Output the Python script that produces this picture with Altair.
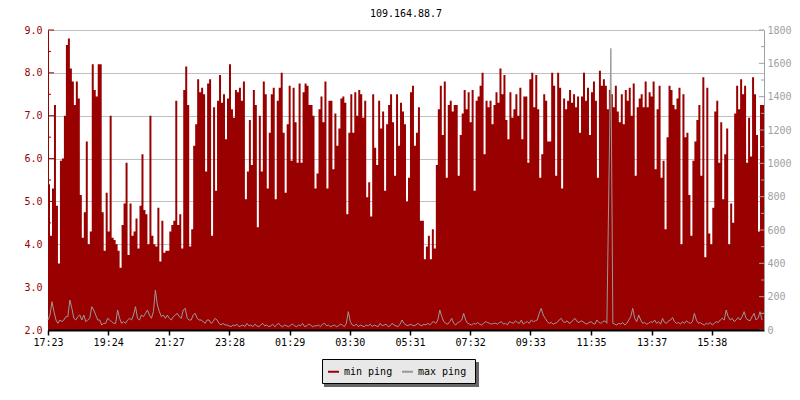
import json
import altair as alt
import pandas as pd

chart_title = "109.164.88.7"
series_names = ["min ping", "max ping"]
series_colors = ["#990000", "#999999"]
sample_minutes = 4
span_minutes = 1440

# min ping (left axis), one value every 4 minutes starting 17:23
min_ping = [
    5.4, 4.2, 5.3, 7.25, 4.9, 3.55, 5.95, 6.0, 7.0, 8.65, 8.8, 8.1, 7.8, 7.25, 7.8,
    7.4, 5.15, 4.15, 4.75, 6.4, 4.0, 4.3, 8.2, 7.6, 7.45, 8.2, 8.2, 4.75, 3.85, 5.2,
    4.3, 7.0, 4.15, 4.1, 4.0, 3.85, 3.45, 4.45, 4.95, 5.9, 3.75, 4.95, 4.2, 4.3, 4.6,
    3.9, 4.9, 6.1, 4.8, 4.7, 4.0, 7.0, 4.2, 4.0, 3.95, 4.85, 3.6, 4.55, 3.8, 3.85,
    3.85, 4.3, 4.45, 4.55, 7.35, 4.45, 4.7, 3.9, 7.6, 8.15, 7.25, 3.95, 4.35, 6.3, 6.8,
    7.85, 7.55, 7.65, 7.5, 5.7, 7.75, 7.85, 4.2, 7.2, 5.25, 7.35, 7.95, 7.3, 7.5, 6.45,
    7.4, 8.2, 7.15, 6.95, 7.6, 7.55, 7.65, 7.35, 7.8, 5.05, 5.7, 6.9, 5.85, 7.6, 7.25,
    4.4, 7.0, 5.7, 7.8, 7.5, 5.3, 6.6, 7.5, 7.65, 5.05, 7.35, 7.65, 8.0, 6.6, 5.2,
    6.8, 7.7, 5.95, 7.65, 6.85, 5.9, 7.75, 5.9, 7.55, 7.75, 7.7, 7.25, 7.25, 7.0, 5.3,
    5.65, 7.15, 7.45, 6.85, 7.8, 5.3, 7.35, 7.35, 5.75, 7.05, 6.3, 6.7, 7.4, 7.45, 7.3,
    4.7, 6.6, 7.5, 6.6, 7.55, 7.0, 7.6, 7.5, 6.95, 7.35, 5.1, 5.45, 4.65, 7.5, 6.25,
    5.85, 7.35, 6.7, 7.1, 5.25, 6.8, 7.25, 7.5, 6.85, 5.6, 7.5, 6.3, 7.3, 7.1, 6.8,
    5.0, 5.55, 7.55, 7.7, 6.3, 6.6, 7.2, 4.55, 4.55, 3.65, 3.95, 4.2, 3.65, 4.35, 3.9,
    5.85, 7.15, 7.7, 6.55, 7.8, 5.55, 7.25, 7.35, 7.1, 7.25, 7.25, 5.6, 6.55, 7.05, 7.6,
    7.15, 7.55, 6.85, 7.6, 5.25, 7.35, 7.45, 7.7, 8.0, 6.1, 7.35, 7.2, 7.35, 6.8, 7.25,
    7.55, 7.3, 8.1, 7.5, 7.95, 6.9, 6.45, 7.55, 6.95, 7.15, 7.5, 7.0, 7.65, 6.45, 7.45,
    7.45, 5.9, 7.85, 8.0, 7.2, 7.95, 7.15, 5.55, 6.1, 7.5, 7.35, 6.4, 6.4, 8.0, 7.7,
    5.6, 8.0, 7.65, 5.3, 7.4, 7.15, 7.35, 7.6, 7.3, 7.5, 7.2, 7.45, 6.6, 7.45, 8.0,
    7.35, 7.65, 6.55, 7.55, 7.8, 7.35, 5.55, 8.05, 7.7, 7.85, 7.7, 7.15, 7.6, 7.5, 7.2,
    7.7, 7.1, 6.85, 7.5, 6.8, 7.6, 7.35, 7.65, 7.0, 7.75, 5.6, 7.2, 7.4, 7.5, 7.2,
    7.8, 7.2, 7.55, 7.45, 7.8, 5.75, 7.15, 7.7, 5.55, 5.95, 4.35, 6.5, 7.7, 7.6, 7.25,
    7.15, 7.4, 7.65, 4.0, 7.5, 6.5, 6.6, 5.15, 4.2, 5.95, 6.4, 6.9, 7.25, 5.6, 7.9,
    3.7, 7.65, 4.25, 4.0, 4.85, 7.1, 7.35, 5.9, 6.85, 5.05, 6.1, 6.7, 4.0, 4.95, 4.5,
    7.05, 7.7, 7.15, 7.85, 7.5, 7.7, 5.9, 6.95, 6.05, 7.9, 7.5, 6.55, 4.3, 7.25, 7.25,
]

# max ping (right axis), same sampling
max_ping = [
    60, 90, 170, 110, 60, 40, 60, 50, 60, 80, 80, 180, 130, 70, 60,
    80, 90, 60, 90, 50, 60, 70, 140, 120, 90, 60, 60, 30, 40, 40,
    70, 60, 50, 40, 40, 120, 70, 40, 50, 40, 60, 70, 60, 90, 140,
    70, 60, 90, 80, 100, 120, 90, 70, 110, 240, 150, 110, 80, 90, 70,
    90, 70, 60, 80, 90, 100, 80, 70, 120, 130, 70, 60, 60, 90, 100,
    70, 60, 60, 50, 40, 60, 60, 40, 50, 70, 60, 40, 30, 40, 30,
    30, 25, 20, 30, 25, 35, 20, 25, 30, 20, 40, 25, 30, 20, 35,
    25, 20, 30, 40, 25, 30, 20, 25, 35, 20, 30, 40, 25, 20, 30,
    25, 20, 30, 35, 25, 20, 30, 25, 40, 20, 25, 35, 30, 20, 25,
    25, 30, 20, 35, 40, 25, 30, 20, 25, 30, 20, 25, 35, 30, 20,
    40, 110, 50, 30, 25, 35, 20, 30, 25, 20, 30, 25, 35, 20, 30,
    25, 20, 40, 25, 30, 35, 20, 25, 40, 30, 25, 20, 35, 60, 40,
    30, 25, 35, 30, 25, 30, 40, 30, 25, 35, 30, 40, 30, 45, 50,
    40, 60, 120, 80, 50, 40, 35, 50, 70, 40, 30, 45, 50, 60, 100,
    60, 40, 35, 30, 40, 35, 45, 35, 30, 40, 50, 45, 40, 35, 40,
    40, 35, 45, 50, 35, 40, 30, 50, 45, 40, 55, 45, 40, 60, 35,
    45, 50, 40, 60, 50, 55, 60, 100, 130, 90, 70, 50, 40, 45, 35,
    40, 45, 60, 70, 50, 45, 55, 40, 45, 60, 70, 50, 45, 55, 50,
    40, 35, 45, 50, 40, 35, 60, 45, 40, 50, 55, 40, 864, 1690, 40,
    35, 30, 40, 35, 45, 30, 40, 60, 80, 130, 70, 50, 90, 60, 40,
    45, 35, 40, 50, 45, 60, 40, 50, 35, 70, 45, 40, 55, 60, 75,
    50, 40, 45, 35, 50, 40, 55, 45, 40, 50, 100, 60, 40, 45, 35,
    30, 40, 35, 45, 30, 40, 50, 45, 60, 70, 60, 120, 80, 60, 70,
    50, 60, 75, 60, 80, 110, 70, 60, 55, 80, 100, 60, 70, 110, 60,
]

tick_minutes = [0, 121, 244, 365, 486, 607, 728, 849, 970, 1092, 1214, 1335]
tick_labels = ["17:23", "19:24", "21:27", "23:28", "01:29", "03:30",
               "05:31", "07:32", "09:33", "11:35", "13:37", "15:38"]
left_major = [2.0, 3.0, 4.0, 5.0, 6.0, 7.0, 8.0, 9.0]
left_minor = [2.5, 3.5, 4.5, 5.5, 6.5, 7.5, 8.5]
right_major = [0, 200, 400, 600, 800, 1000, 1200, 1400, 1600, 1800]
right_minor = [100, 300, 500, 700, 900, 1100, 1300, 1500, 1700]

FONT = "DejaVu Sans Mono"
W, H = 716, 300

times = [i * sample_minutes for i in range(len(min_ping))]
red_df = pd.DataFrame({"t": times + [span_minutes], "v": min_ping + [min_ping[-1]]})
grey_df = pd.DataFrame({"t": times, "v": max_ping, "series": series_names[1]})

label_expr = f"{json.dumps(tick_labels)}[indexof({json.dumps(tick_minutes)}, datum.value)]"

x_enc = alt.X(
    "t:Q",
    scale=alt.Scale(domain=[0, span_minutes], nice=False, zero=False),
    axis=alt.Axis(values=tick_minutes, labelExpr=label_expr, title=None, grid=False,
                  labelFlush=False, labelOverlap=False, labelFont=FONT, labelFontSize=10,
                  labelColor="black", domainColor="black", domainWidth=2,
                  tickColor="black", tickSize=5, tickWidth=1.5, labelPadding=2, zindex=1),
)

left_scale = alt.Scale(domain=[2, 9], nice=False, zero=False)
right_scale = alt.Scale(domain=[0, 1800], nice=False, zero=False)

left_axis = alt.Axis(orient="left", values=left_major, format=".1f", title=None,
                     grid=True, gridColor="#c0c0c0", gridWidth=1,
                     ticks=False, tickSize=0, domainColor="#990000", domainWidth=1,
                     labelColor="#990000", labelFont=FONT, labelFontSize=10,
                     labelPadding=6, labelFlush=False, labelOverlap=False)
right_axis = alt.Axis(orient="right", values=right_major, format="d", title=None,
                      grid=False, ticks=False, tickSize=0, domainColor="#a0a0a0",
                      domainWidth=1, labelColor="#a0a0a0", labelFont=FONT,
                      labelFontSize=10, labelPadding=3, labelFlush=False,
                      labelOverlap=False, zindex=1)

area = alt.Chart(red_df).mark_area(
    interpolate="step-after", color="#990000", opacity=1
).encode(
    x=x_enc,
    y=alt.Y("v:Q", scale=left_scale, axis=left_axis),
    y2=alt.datum(2),
)

lt_major = alt.Chart(pd.DataFrame({"v": left_major})).mark_rule(
    color="#990000", strokeWidth=1).encode(
    y=alt.Y("v:Q", scale=left_scale, axis=left_axis), x=alt.value(0), x2=alt.value(6))
lt_minor = alt.Chart(pd.DataFrame({"v": left_minor})).mark_rule(
    color="#990000", strokeWidth=1).encode(
    y=alt.Y("v:Q", scale=left_scale, axis=left_axis), x=alt.value(0), x2=alt.value(3))

line = alt.Chart(grey_df).mark_line(strokeWidth=1, interpolate="linear").encode(
    x=x_enc,
    y=alt.Y("v:Q", scale=right_scale, axis=right_axis),
    color=alt.Color("series:N",
                    scale=alt.Scale(domain=series_names, range=series_colors),
                    legend=alt.Legend(title=None, orient="none", legendX=279, legendY=335,
                                      direction="horizontal", symbolType="stroke",
                                      symbolStrokeWidth=2, symbolSize=121,
                                      labelFont=FONT, labelFontSize=10, labelColor="black",
                                      labelOffset=4, columnPadding=5, padding=0)),
)

rt_major = alt.Chart(pd.DataFrame({"v": right_major})).mark_rule(
    color="#a0a0a0", strokeWidth=1).encode(
    y=alt.Y("v:Q", scale=right_scale, axis=right_axis), x=alt.value(W - 5), x2=alt.value(W))
rt_minor = alt.Chart(pd.DataFrame({"v": right_minor})).mark_rule(
    color="#a0a0a0", strokeWidth=1).encode(
    y=alt.Y("v:Q", scale=right_scale, axis=right_axis), x=alt.value(W - 3), x2=alt.value(W))

bg = pd.DataFrame({"k": [0]})
shadow = alt.Chart(bg).mark_rect(color="#666666").encode(
    x=alt.value(276), x2=alt.value(431), y=alt.value(332), y2=alt.value(357))
box = alt.Chart(bg).mark_rect(fill="#e8e8e8", stroke="black", strokeWidth=1).encode(
    x=alt.value(274.5), x2=alt.value(427.5), y=alt.value(329.5), y2=alt.value(353.5))

left_group = alt.layer(area, lt_major, lt_minor)
right_group = alt.layer(line, rt_major, rt_minor)

chart = alt.layer(left_group, right_group, shadow, box).resolve_scale(
    y="independent"
).properties(
    width=W, height=H,
    title=alt.TitleParams(text=chart_title, font=FONT, fontSize=10, fontWeight="normal",
                          color="black", anchor="middle", frame="group", offset=6),
    autosize=alt.AutoSizeParams(type="none"),
    padding={"left": 40, "top": 22, "right": 28, "bottom": 62},
).configure_view(stroke=None)

chart.save("out.html", embed_options={"renderer": "svg", "actions": False})
